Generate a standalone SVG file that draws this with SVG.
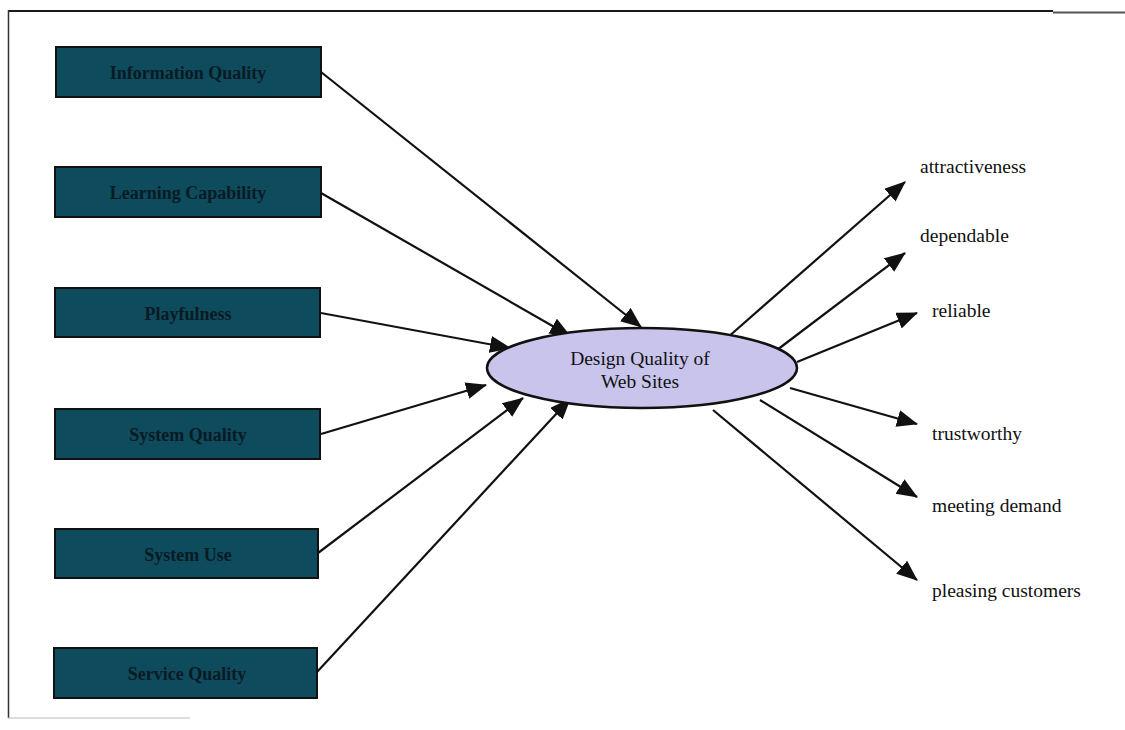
<svg xmlns="http://www.w3.org/2000/svg" width="1125" height="730" viewBox="0 0 1125 730">
<defs>
<marker id="ah" markerUnits="userSpaceOnUse" markerWidth="22" markerHeight="18" refX="20" refY="8.5" orient="auto">
<path d="M0,0 L21,8.5 L0,17 z" fill="#111"/>
</marker>
<style>
.box{fill:#0d4b5d;stroke:#111;stroke-width:2}
.bt{font-family:"Liberation Serif","Times New Roman",serif;font-size:18px;font-weight:bold;fill:#0a1a24;text-anchor:middle}
.et{font-family:"Liberation Serif","Times New Roman",serif;font-size:19.5px;fill:#111;text-anchor:middle}
.lbl{font-family:"Liberation Serif","Times New Roman",serif;font-size:19.5px;fill:#111}
.c{stroke:#111;stroke-width:2.2;fill:none;marker-end:url(#ah)}
</style>
</defs>
<rect width="1125" height="730" fill="#fff"/>
<g id="frame">
<line x1="8" y1="11" x2="1053" y2="11" stroke="#1a1a1a" stroke-width="2"/>
<line x1="1053" y1="12.5" x2="1125" y2="12.5" stroke="#555" stroke-width="2"/>
<line x1="8.5" y1="10" x2="8.5" y2="718" stroke="#333" stroke-width="1.5"/>
<line x1="8" y1="718" x2="190" y2="718" stroke="#bbb" stroke-width="1"/>
</g>
<g id="connectors">
<line class="c" x1="321" y1="72" x2="641" y2="327"/>
<line class="c" x1="321" y1="193" x2="570" y2="336"/>
<line class="c" x1="321" y1="313" x2="510" y2="348"/>
<line class="c" x1="321" y1="434" x2="486" y2="385"/>
<line class="c" x1="318" y1="553" x2="523" y2="398"/>
<line class="c" x1="317" y1="672" x2="570" y2="399"/>
<line class="c" x1="727" y1="338" x2="905" y2="182"/>
<line class="c" x1="777" y1="350" x2="905" y2="253"/>
<line class="c" x1="797" y1="362" x2="917" y2="313"/>
<line class="c" x1="790" y1="388" x2="917" y2="424"/>
<line class="c" x1="760" y1="400" x2="917" y2="497"/>
<line class="c" x1="713" y1="410" x2="917" y2="580"/>
</g>
<g id="n-info"><rect class="box" x="56" y="47" width="265" height="50"/><text class="bt" x="188" y="79">Information Quality</text></g>
<g id="n-learn"><rect class="box" x="55" y="167" width="266" height="50"/><text class="bt" x="188" y="199">Learning Capability</text></g>
<g id="n-play"><rect class="box" x="55" y="288" width="265" height="49"/><text class="bt" x="188" y="320">Playfulness</text></g>
<g id="n-sysq"><rect class="box" x="55" y="409" width="265" height="50"/><text class="bt" x="188" y="441">System Quality</text></g>
<g id="n-sysu"><rect class="box" x="55" y="529" width="263" height="49"/><text class="bt" x="188" y="561">System Use</text></g>
<g id="n-serv"><rect class="box" x="54" y="648" width="263" height="50"/><text class="bt" x="187" y="680">Service Quality</text></g>
<g id="n-design">
<ellipse cx="642" cy="368" rx="155" ry="40" fill="#c9c4ec" stroke="#111" stroke-width="2.5"/>
<text class="et" x="640" y="365">Design Quality of</text>
<text class="et" x="640" y="388">Web Sites</text>
</g>
<g id="n-attr"><text class="lbl" x="920" y="173">attractiveness</text></g>
<g id="n-dep"><text class="lbl" x="920" y="242">dependable</text></g>
<g id="n-rel"><text class="lbl" x="932" y="317">reliable</text></g>
<g id="n-trust"><text class="lbl" x="932" y="440">trustworthy</text></g>
<g id="n-meet"><text class="lbl" x="932" y="512">meeting demand</text></g>
<g id="n-please"><text class="lbl" x="932" y="597">pleasing customers</text></g>
</svg>
